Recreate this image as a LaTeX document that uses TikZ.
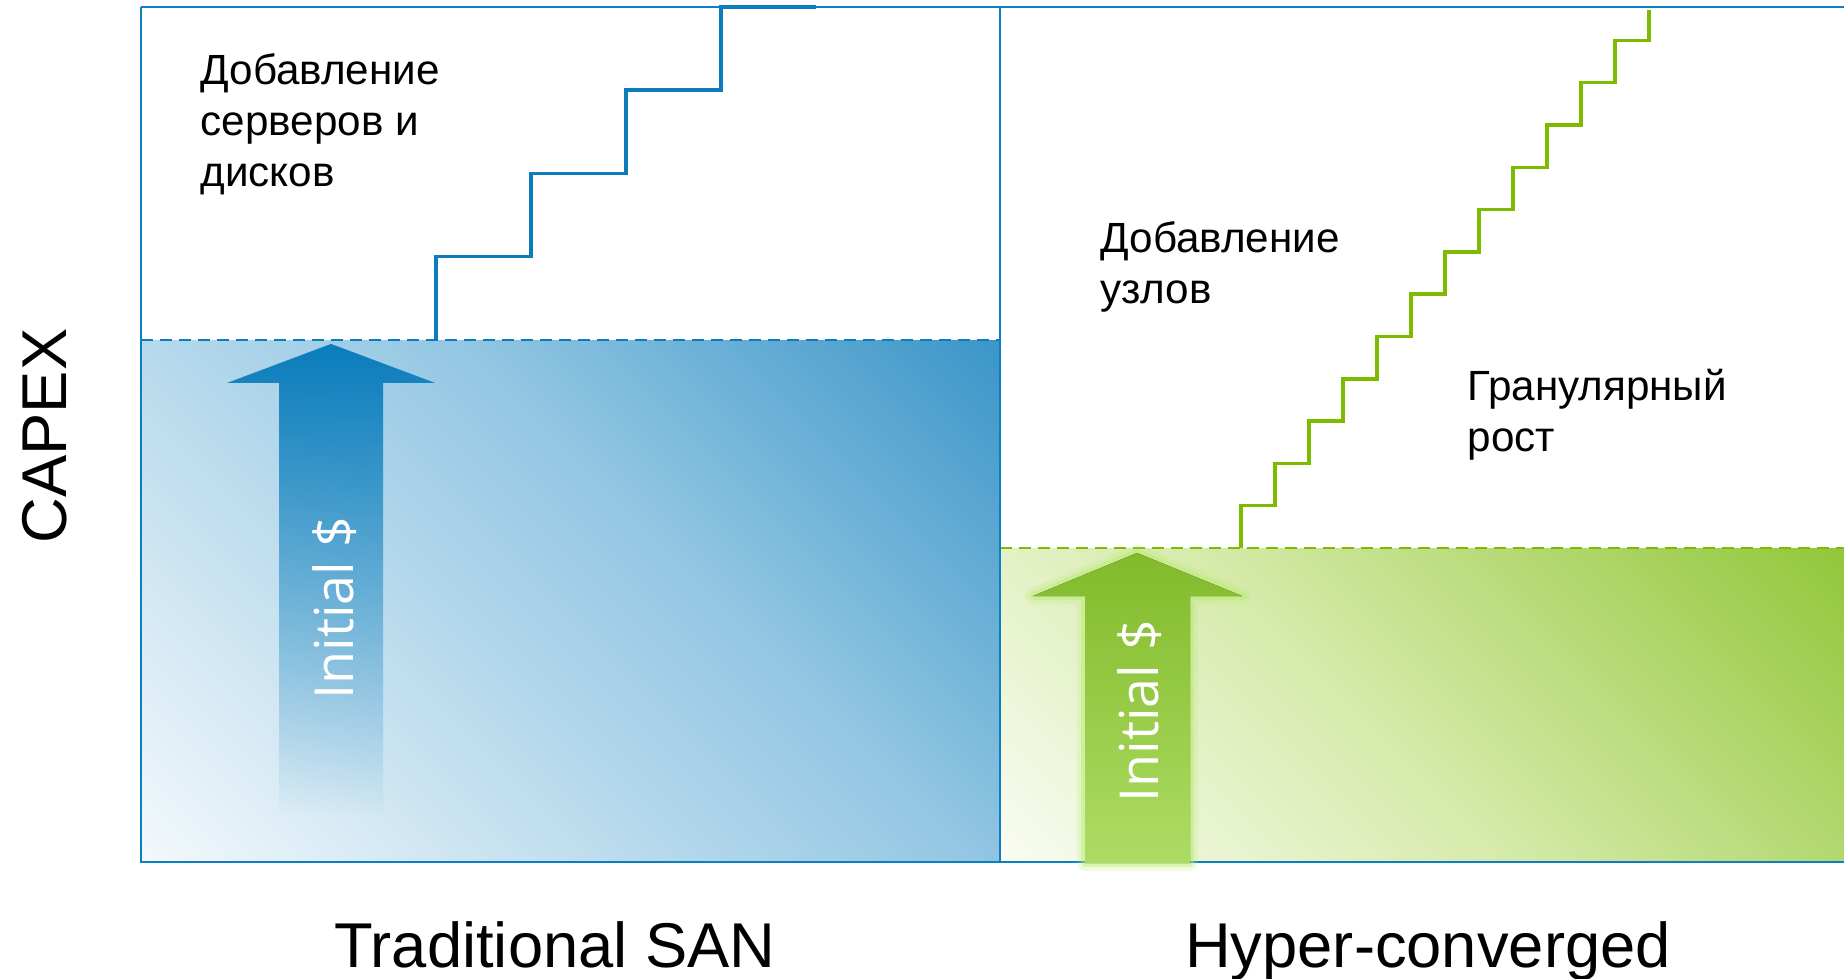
\documentclass[tikz,border=0pt]{standalone}
\usepackage{fontspec}
\setmainfont{Liberation Sans}
\newfontfamily\initfont{Open Sans}
\usetikzlibrary{fadings}
\definecolor{frameblue}{HTML}{0A7FC1}
\definecolor{stepblue}{HTML}{0B7DBD}
\definecolor{stepgreen}{HTML}{7DBB00}
\definecolor{blueA}{HTML}{F4F9FC}
\definecolor{blueM}{HTML}{90C5E2}
\definecolor{blueB}{HTML}{3592C6}
\definecolor{greenA}{HTML}{FAFCF4}
\definecolor{greenM}{HTML}{D5EAA9}
\definecolor{greenB}{HTML}{8EC535}
\definecolor{arrowblue}{HTML}{0A7DBC}
\definecolor{arrowgreenA}{HTML}{8CC92E}
\definecolor{arrowgreenB}{HTML}{BBEE6B}
\definecolor{glowgreen}{HTML}{B5EB6A}
\tikzfading[name=fadedown, top color=transparent!0, bottom color=transparent!100]
\begin{document}
\begin{tikzpicture}[x=0.01cm,y=-0.01cm,
  frameline/.style={draw=frameblue, line width=0.6pt},
  stairblue/.style={draw=stepblue, line width=1pt},
  stairgreen/.style={draw=stepgreen, line width=1pt},
  dashblue/.style={draw=stepblue, line width=0.6pt, dash pattern=on 3.4pt off 2pt},
  dashgreen/.style={draw=stepgreen, line width=0.6pt, dash pattern=on 3.4pt off 2pt},
  lbl/.style={font=\fontsize{12}{14.5}\selectfont, align=left, inner sep=0pt, anchor=north west},
  biglbl/.style={font=\fontsize{18}{22}\selectfont, inner sep=0pt},
  initlbl/.style={font=\initfont\fontsize{15.3}{18}\selectfont, text=white, inner sep=0pt, rotate=90, anchor=base west}]
\useasboundingbox (0,0) rectangle (1844,978);
\fill[white] (0,0) rectangle (1844,978);
% blue area fill (diagonal gradient)
\begin{scope}
  \clip (141,340) rectangle (1000,862);
  \begin{scope}[transform canvas={shift={(141,862)}, rotate=45}]
    \shade[left color=blueA, right color=blueM] (-5,-800) rectangle (608,800);
    \shade[left color=blueM, right color=blueB] (607,-800) rectangle (1000,800);
  \end{scope}
\end{scope}
% green area fill (diagonal gradient)
\begin{scope}
  \clip (1000,548) rectangle (1844,862);
  \begin{scope}[transform canvas={shift={(1000,862)}, rotate=45}]
    \shade[left color=greenA, right color=greenM] (-5,-800) rectangle (368,800);
    \shade[left color=greenM, right color=greenB] (367,-800) rectangle (840,800);
  \end{scope}
\end{scope}
% dashed levels
\draw[dashblue] (141,340) -- (1000,340);
\draw[dashgreen] (1000,548) -- (1844,548);
% blue arrow
\fill[arrowblue, path fading=fadedown] (331,344) -- (435,383) -- (383,383) -- (383,815) -- (279,815) -- (279,383) -- (227,383) -- cycle;
\node[initlbl] (initA) at (353,700) {Initial \$};
% stairs
\draw[stairblue] (436,340) \foreach \i in {1,...,4} { |- ++(95,-83.3) };
\draw[stairgreen] (1241,548) \foreach \i in {1,...,12} { |- ++(34,-42.3) } -- ++(0,-30.4);
% frame
\draw[frameline] (141,7) -- (1844,7);
\draw[frameline] (141,7) -- (141,862) -- (1844,862);
\draw[draw=frameblue, line width=0.45pt] (1000,7) -- (1000,862);
% green arrow with glow
\draw[glowgreen, line width=0.16cm, line join=round, opacity=0.2] (1137,553) -- (1242,596) -- (1190,596) -- (1190,863) -- (1085,863) -- (1085,596) -- (1033,596) -- cycle;
\draw[glowgreen, line width=0.08cm, line join=round, opacity=0.4] (1137,553) -- (1242,596) -- (1190,596) -- (1190,863) -- (1085,863) -- (1085,596) -- (1033,596) -- cycle;
\fill[top color=arrowgreenA, bottom color=arrowgreenB, opacity=0.92] (1137,553) -- (1242,596) -- (1190,596) -- (1190,863) -- (1085,863) -- (1085,596) -- (1033,596) -- cycle;
\node[initlbl] (initB) at (1158,803) {Initial \$};
% labels
\node[lbl] (addsrv) at (200,53) {Добавление\\серверов и\\дисков};
\node[lbl] (addnode) at (1100,221) {Добавление\\узлов};
\node[lbl] (gran) at (1467,368) {Гранулярный\\рост};
\node[biglbl, rotate=90] (capex) at (45,436) {CAPEX};
\node[biglbl, anchor=base] (san) at (555,967) {Traditional SAN};
\node[biglbl, anchor=base] (hci) at (1428,967) {Hyper-converged};
\end{tikzpicture}
\end{document}
